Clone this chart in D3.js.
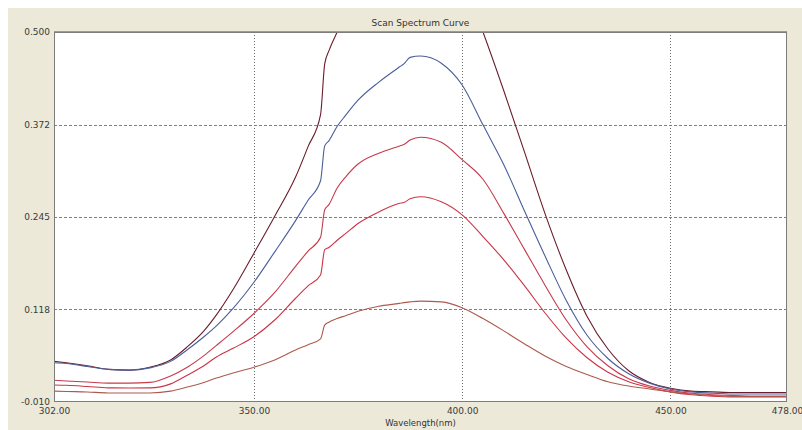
<!DOCTYPE html>
<html>
<head>
<meta charset="utf-8">
<script src="https://cdn.jsdelivr.net/npm/d3@7"></script>
<style>
  html, body { margin: 0; padding: 0; background: #fff; }
  svg { display: block; }
  text { font-family: "DejaVu Sans", "Liberation Sans", sans-serif; }
</style>
</head>
<body>
<svg id="chart" width="802" height="430"></svg>
<script>
// ---- data ----
const title = "Scan Spectrum Curve";
const xLabel = "Wavelength(nm)";
const xTicks = [302, 350, 400, 450, 478];
const yTicks = [-0.010, 0.118, 0.245, 0.372, 0.500];

const wavelengths = [302, 305, 310, 315, 320, 325, 330, 334, 338, 341, 345, 350, 355, 360, 363, 366, 367, 368, 370, 372, 375, 380, 385, 386, 387.5, 390, 395, 400, 405, 410, 415, 420, 425, 430, 435, 440, 445, 450, 455, 460, 465, 470, 478];

const series1 = [0.046, 0.044, 0.040, 0.035, 0.034, 0.038, 0.048, 0.066, 0.088, 0.110, 0.145, 0.195, 0.246, 0.300, 0.342, 0.386, 0.456, 0.474, 0.500, 0.525, 0.550, 0.585, 0.610, 0.615, 0.625, 0.628, 0.614, 0.574, 0.500, 0.419, 0.334, 0.248, 0.172, 0.108, 0.063, 0.033, 0.017, 0.009, 0.005, 0.004, 0.003, 0.003, 0.003];
const series2 = [0.044, 0.043, 0.039, 0.035, 0.034, 0.037, 0.046, 0.062, 0.080, 0.095, 0.119, 0.155, 0.197, 0.240, 0.268, 0.295, 0.343, 0.350, 0.370, 0.385, 0.406, 0.431, 0.452, 0.456, 0.465, 0.467, 0.457, 0.427, 0.372, 0.317, 0.253, 0.190, 0.130, 0.082, 0.050, 0.029, 0.016, 0.008, 0.004, 0.002, 0.001, 0.001, 0.001];
const series3 = [0.020, 0.019, 0.0175, 0.016, 0.016, 0.017, 0.026, 0.038, 0.054, 0.068, 0.087, 0.112, 0.141, 0.177, 0.198, 0.217, 0.255, 0.262, 0.285, 0.300, 0.318, 0.333, 0.343, 0.345, 0.351, 0.355, 0.348, 0.324, 0.297, 0.250, 0.200, 0.150, 0.103, 0.066, 0.040, 0.022, 0.012, 0.006, 0.002, 0.000, -0.001, -0.002, -0.002];
const series4 = [0.0134, 0.013, 0.0114, 0.0095, 0.0093, 0.0095, 0.015, 0.027, 0.040, 0.052, 0.064, 0.080, 0.103, 0.133, 0.150, 0.165, 0.200, 0.203, 0.213, 0.222, 0.236, 0.252, 0.264, 0.265, 0.270, 0.273, 0.266, 0.248, 0.218, 0.186, 0.150, 0.112, 0.078, 0.051, 0.031, 0.018, 0.010, 0.004, 0.000, -0.002, -0.003, -0.003, -0.003];
const series5 = [0.005, 0.0045, 0.0038, 0.0025, 0.0024, 0.0025, 0.005, 0.0107, 0.017, 0.023, 0.030, 0.038, 0.048, 0.0617, 0.069, 0.077, 0.096, 0.100, 0.105, 0.109, 0.115, 0.122, 0.126, 0.127, 0.128, 0.129, 0.128, 0.120, 0.105, 0.088, 0.070, 0.053, 0.039, 0.028, 0.018, 0.012, 0.008, 0.004, 0.001, -0.001, -0.002, -0.002, -0.002];

const seriesList = [series1, series2, series3, series4, series5];
const seriesColors = ["#6a1d2c", "#4a5e98", "#c63a4c", "#cc3446", "#ad5a4e"];

// ---- layout ----
const W = 802, H = 430;
const plot = { left: 54, top: 32, right: 787, bottom: 402 };

const svg = d3.select("#chart");
svg.append("rect").attr("x", 0).attr("y", 0).attr("width", W).attr("height", H).attr("fill", "#ffffff");
svg.append("rect").attr("x", 8).attr("y", 8).attr("width", W - 8).attr("height", H - 8).attr("fill", "#ece9d8");

const x = d3.scaleLinear().domain([302, 478]).range([plot.left, plot.right]);
const y = d3.scaleLinear().domain([-0.010, 0.500]).range([plot.bottom, plot.top]);

svg.append("rect")
  .attr("x", plot.left).attr("y", plot.top)
  .attr("width", plot.right - plot.left).attr("height", plot.bottom - plot.top)
  .attr("fill", "#ffffff");

// grid
const grid = svg.append("g");
grid.selectAll("line.h").data(yTicks.slice(1, -1)).enter().append("line")
  .attr("x1", plot.left).attr("x2", plot.right)
  .attr("y1", d => Math.round(y(d)) + 0.5).attr("y2", d => Math.round(y(d)) + 0.5)
  .attr("stroke", "#7f7f7f").attr("stroke-width", 1).attr("stroke-dasharray", "3,2");
grid.selectAll("line.v").data(xTicks.slice(1, -1)).enter().append("line")
  .attr("x1", d => Math.round(x(d)) + 0.5).attr("x2", d => Math.round(x(d)) + 0.5)
  .attr("y1", plot.top).attr("y2", plot.bottom)
  .attr("stroke", "#6f6f6f").attr("stroke-width", 1).attr("stroke-dasharray", "1,2");

// curves
svg.append("clipPath").attr("id", "clip").append("rect")
  .attr("x", plot.left).attr("y", plot.top)
  .attr("width", plot.right - plot.left).attr("height", plot.bottom - plot.top);

const line = d3.line()
  .x((d, i) => x(wavelengths[i]))
  .y(d => y(d))
  .curve(d3.curveMonotoneX);

svg.append("g").attr("clip-path", "url(#clip)")
  .selectAll("path").data(seriesList).enter().append("path")
  .attr("d", d => line(d))
  .attr("fill", "none")
  .attr("stroke", (d, i) => seriesColors[i])
  .attr("stroke-width", 1.1);

// border
svg.append("rect")
  .attr("x", plot.left + 0.5).attr("y", plot.top + 0.5)
  .attr("width", plot.right - plot.left - 1).attr("height", plot.bottom - plot.top - 1)
  .attr("fill", "none").attr("stroke", "#7d7d7d").attr("stroke-width", 1);
svg.append("line")
  .attr("x1", plot.left).attr("x2", plot.right)
  .attr("y1", plot.top - 0.5).attr("y2", plot.top - 0.5)
  .attr("stroke", "#9a9a9a").attr("stroke-width", 1);

// axes
const fmtY = d => d3.format(".3f")(d).replace("\u2212", "-");
const fmtX = d => d3.format(".2f")(d);

const yAxis = svg.append("g")
  .attr("transform", `translate(${plot.left},0)`)
  .call(d3.axisLeft(y).tickValues(yTicks).tickSize(0).tickPadding(4).tickFormat(fmtY));
yAxis.select(".domain").remove();
yAxis.selectAll("text").attr("font-size", 9).attr("fill", "#3a3a3a")
  .attr("font-family", "DejaVu Sans, sans-serif");

const xAxis = svg.append("g")
  .attr("transform", `translate(0,${plot.bottom})`)
  .call(d3.axisBottom(x).tickValues(xTicks).tickSize(0).tickPadding(6).tickFormat(fmtX));
xAxis.select(".domain").remove();
xAxis.selectAll("text").attr("font-size", 9).attr("fill", "#3a3a3a")
  .attr("font-family", "DejaVu Sans, sans-serif");

// title and axis label
svg.append("text")
  .attr("x", (plot.left + plot.right) / 2).attr("y", 26)
  .attr("text-anchor", "middle").attr("font-size", 9).attr("fill", "#333")
  .text(title);
svg.append("text")
  .attr("x", (plot.left + plot.right) / 2).attr("y", 426)
  .attr("text-anchor", "middle").attr("font-size", 8.5).attr("fill", "#333")
  .text(xLabel);
</script>
</body>
</html>
